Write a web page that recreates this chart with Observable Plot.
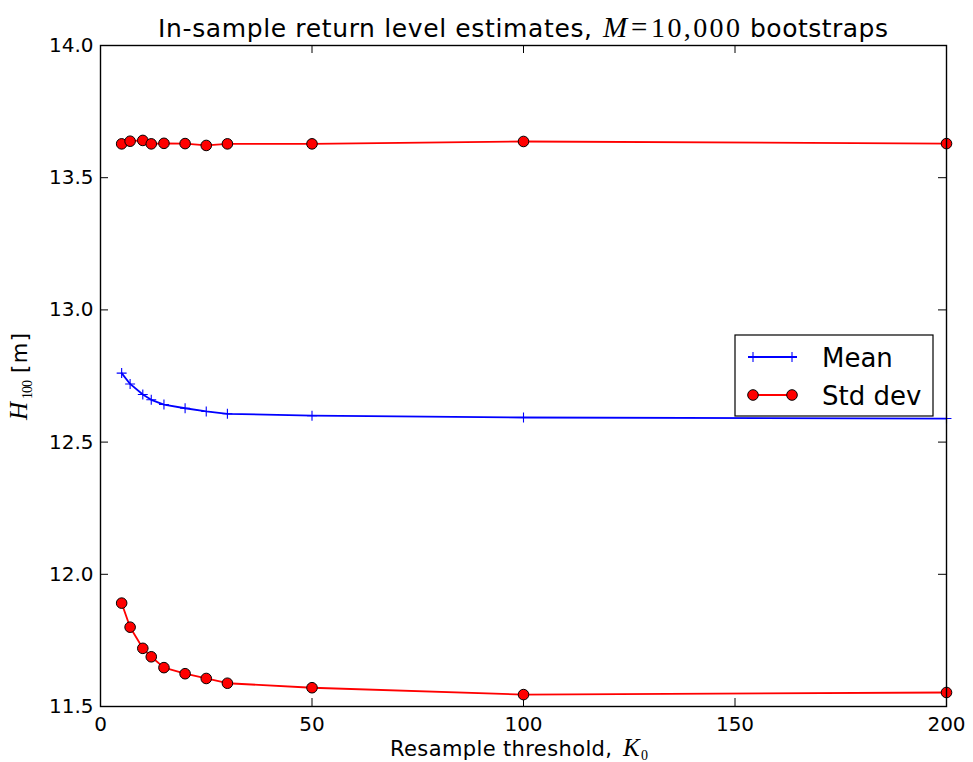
<!DOCTYPE html>
<html>
<head>
<meta charset="utf-8">
<script src="https://cdn.jsdelivr.net/npm/d3@7"></script>
<script src="https://cdn.jsdelivr.net/npm/@observablehq/plot@0.6"></script>
<style>
  html, body { margin: 0; padding: 0; background: #fff; }
  svg { display: block; }
</style>
</head>
<body>
<div id="chart"></div>
<script>
// ---- data ----
const thresholds = [5, 7, 10, 12, 15, 20, 25, 30, 50, 100, 200];
const meanValues = [12.761, 12.720, 12.680, 12.660, 12.642, 12.628, 12.616, 12.607, 12.600, 12.593, 12.589];
const upperValues = [13.628, 13.638, 13.641, 13.628, 13.630, 13.629, 13.622, 13.628, 13.628, 13.637, 13.629];
const lowerValues = [11.891, 11.800, 11.720, 11.688, 11.647, 11.624, 11.606, 11.588, 11.571, 11.545, 11.553];
const xTicks = [0, 50, 100, 150, 200];
const yTicks = [11.5, 12.0, 12.5, 13.0, 13.5, 14.0];
const seriesNames = ["Mean", "Std dev"];

const meanData = thresholds.map((x, i) => ({x, y: meanValues[i]}));
const upperData = thresholds.map((x, i) => ({x, y: upperValues[i]}));
const lowerData = thresholds.map((x, i) => ({x, y: lowerValues[i]}));

const W = 973, H = 762;
const mL = 100, mR = 27, mT = 45, mB = 56;
const plotW = W - mL - mR, plotH = H - mT - mB;
const tickLen = 8;
const FONT = "DejaVu Sans, sans-serif";
const SERIF = "Liberation Serif, DejaVu Serif, serif";

const plot = Plot.plot({
  width: W,
  height: H,
  marginLeft: mL, marginRight: mR, marginTop: mT, marginBottom: mB,
  style: {fontFamily: FONT, fontSize: "20px", color: "#000", background: "#fff"},
  x: {domain: [0, 200], ticks: xTicks, label: null},
  y: {domain: [11.5, 14.0], ticks: yTicks, label: null, tickFormat: d3.format(".1f")},
  marks: [
    Plot.axisX(xTicks, {tickSize: 0, tickPadding: 10, fontSize: 20, label: null}),
    Plot.axisY(yTicks, {tickSize: 0, tickPadding: 7, fontSize: 20, label: null, tickFormat: d3.format(".1f")}),
    // inward ticks on all four sides
    Plot.tickX(xTicks, {x: d => d, insetTop: plotH - tickLen, stroke: "#000", strokeWidth: 1}),
    Plot.tickX(xTicks, {x: d => d, insetBottom: plotH - tickLen, stroke: "#000", strokeWidth: 1}),
    Plot.tickY(yTicks, {y: d => d, insetRight: plotW - tickLen, stroke: "#000", strokeWidth: 1}),
    Plot.tickY(yTicks, {y: d => d, insetLeft: plotW - tickLen, stroke: "#000", strokeWidth: 1}),
    // mean
    Plot.line(meanData, {x: "x", y: "y", stroke: "#0000ff", strokeWidth: 1.8}),
    Plot.dot(meanData, {x: "x", y: "y", symbol: "plus", r: 3.3, stroke: "#0000ff", strokeWidth: 1.1}),
    // std dev bands
    Plot.line(upperData, {x: "x", y: "y", stroke: "#ff0000", strokeWidth: 1.8}),
    Plot.dot(upperData, {x: "x", y: "y", r: 5.3, fill: "#ff0000", stroke: "#000", strokeWidth: 1}),
    Plot.line(lowerData, {x: "x", y: "y", stroke: "#ff0000", strokeWidth: 1.8}),
    Plot.dot(lowerData, {x: "x", y: "y", r: 5.3, fill: "#ff0000", stroke: "#000", strokeWidth: 1}),
    Plot.frame({stroke: "#000", strokeWidth: 1.4})
  ]
});

document.getElementById("chart").appendChild(plot);

const svg = d3.select(plot);

function addText(parent, x, y, txt, opts = {}) {
  const t = parent.append("text")
    .attr("x", x).attr("y", y)
    .attr("text-anchor", "start")
    .attr("fill", "#000")
    .style("font-family", opts.family || FONT)
    .style("font-size", (opts.size || 20) + "px")
    .text(txt);
  if (opts.italic) t.style("font-style", "italic");
  if (opts.len) t.attr("textLength", opts.len).attr("lengthAdjust", "spacing");
  return t;
}

// title
addText(svg, 158, 37, "In-sample return level estimates,", {size: 25, len: 434});
addText(svg, 603, 37, "M", {family: SERIF, italic: true, size: 29});
addText(svg, 631, 37, "=", {family: SERIF, size: 29});
addText(svg, 651, 37, "10,000", {family: SERIF, size: 28, len: 89});
addText(svg, 750, 37, "bootstraps", {size: 25, len: 138});

// x label
addText(svg, 390, 756, "Resample threshold,", {size: 21, len: 222});
addText(svg, 623, 756, "K", {family: SERIF, italic: true, size: 25});
addText(svg, 641, 760, "0", {family: SERIF, size: 14});

// y label (rotated)
const yg = svg.append("g").attr("transform", "translate(27,0) rotate(-90)");
addText(yg, -420, 0, "H", {family: SERIF, italic: true, size: 25});
addText(yg, -399, 5, "100", {family: SERIF, size: 14, len: 19});
addText(yg, -373, 0, "[m]", {size: 21, len: 40});

// legend
const lg = svg.append("g");
lg.append("rect").attr("x", 735).attr("y", 335).attr("width", 198).attr("height", 81)
  .attr("fill", "#fff").attr("stroke", "#000").attr("stroke-width", 1.2);
const rows = [{y: 357, color: "#0000ff"}, {y: 395, color: "#ff0000"}];
rows.forEach((r, i) => {
  lg.append("line").attr("x1", 748).attr("x2", 797).attr("y1", r.y).attr("y2", r.y)
    .attr("stroke", r.color).attr("stroke-width", 1.8);
  [753, 792].forEach(cx => {
    if (i === 0) {
      lg.append("path").attr("d", `M${cx-5},${r.y}H${cx+5}M${cx},${r.y-5}V${r.y+5}`)
        .attr("stroke", r.color).attr("stroke-width", 1.1).attr("fill", "none");
    } else {
      lg.append("circle").attr("cx", cx).attr("cy", r.y).attr("r", 5.3)
        .attr("fill", "#ff0000").attr("stroke", "#000").attr("stroke-width", 1);
    }
  });
  addText(lg, 822, r.y + 9.5, seriesNames[i], {size: 26});
});
</script>
</body>
</html>
